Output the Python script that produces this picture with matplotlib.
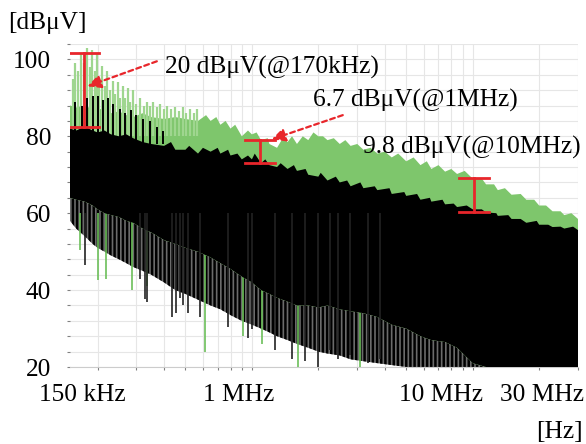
import matplotlib
matplotlib.use("Agg")
import matplotlib.pyplot as plt
from matplotlib import ticker

plt.rcParams['font.family'] = ['Liberation Serif', 'DejaVu Serif']
plt.rcParams['hatch.linewidth'] = 1.8

# frequency grid (kHz) and envelopes (dBuV)
freq = [150, 160, 175, 190, 200, 215, 230, 250, 270, 290, 320, 350, 400, 450, 500,
        570, 650, 720, 800, 900, 1000, 1100, 1200, 1300, 1450, 1600, 1800, 2000,
        2200, 2500, 2800, 3200, 3700, 4300, 5000, 5800, 6500, 7500, 8500, 10000,
        11500, 13000, 15000, 17500, 20000, 23000, 26000, 30000]
green_top = [88, 87.5, 88, 87, 87.5, 86.5, 86, 86.5, 85.5, 85, 86, 85, 84.5, 85, 84.5,
             84, 84, 83, 82, 80, 80.5, 79, 78, 77, 78.5, 78, 79, 80,
             79, 78, 77.5, 76.5, 75.5, 74.5, 73.5, 72.5, 71.5, 70.8, 70.2, 69,
             67.5, 66, 64.8, 63.5, 62, 60.5, 59.5, 58.5]
black_top = [82, 81.5, 82.5, 81.5, 81, 81.5, 80.5, 80, 80.5, 79.5, 78.5, 78, 77.5, 76.5, 76.5,
             75.5, 76, 75.5, 75, 74, 74, 73, 72.5, 72, 71.5, 71, 70, 69.5,
             68.5, 68, 67, 66.5, 66, 65, 64.5, 63.5, 63, 62.3, 61.6, 61,
             60.2, 59.3, 58.5, 57.5, 57, 56.4, 56, 55.6]
black_low = [64, 63.5, 63, 62, 61, 60, 59.5, 59, 58, 57.5, 56, 55, 53, 52, 51,
             50, 48.5, 47, 45.5, 43.5, 42, 40, 39, 38, 37, 36, 36, 35.5,
             36, 35, 34.5, 34, 33, 31, 30, 28, 27, 26.5, 25, 21,
             20, 20, 20, 20, 20, 20, 20, 20]
spike_floor = [58, 56, 54, 52, 51, 50, 49, 48, 47, 46, 45, 44, 42, 40, 39,
               37.5, 36, 35, 33.5, 32, 31, 30, 29, 28, 27, 26, 25, 24,
               23.5, 23, 22, 21.5, 21, 20.5, 20, 20, 20, 20, 20, 20,
               20, 20, 20, 20, 20, 20, 20, 20]

# small peaks on the upper edges (kHz, dBuV)
green_edge_f = [620, 690, 760, 840, 960, 1050, 1180, 1380, 1520, 1700, 1900, 2100, 2350,
                2650, 3000, 3450, 4000, 4600, 5400, 6200, 7000, 8000, 9200, 11000, 12500,
                14000, 16500, 19000, 21500, 25000, 28000]
green_edge_v = [85.5, 85, 84, 83, 81.5, 81, 79.5, 79.5, 80, 80, 81, 80, 79.5,
                79, 78, 77, 76, 75.5, 74.5, 73.5, 72.5, 71.5, 71, 69, 67.5,
                66.5, 65, 63.5, 62, 60.5, 60]
black_edge_f = [430, 520, 600, 700, 780, 860, 960, 1030, 1150, 1350, 1550, 1750, 2050,
                2400, 2700, 3100, 3600, 4200, 4900, 5600, 6400, 7300, 8200, 9400, 11000,
                12800, 14500, 16500, 19500, 22000, 25000, 28500]
black_edge_v = [78.5, 77.5, 77, 77, 76.5, 75.5, 75, 75.5, 74, 73, 72.5, 71.5, 70.5,
                69.5, 68.5, 68, 67, 66.5, 65.5, 65, 64, 63.5, 62.5, 62, 61,
                60, 59.5, 58.5, 58, 57, 56.5, 56.5]

# single tall peaks at the low end (kHz, dBuV)
green_peak_f = [155, 158, 163, 168, 174, 179, 184, 189, 194, 199, 204, 209, 215, 221, 228,
                235, 241, 247, 254, 261, 267, 274, 281, 289, 300, 311, 323, 335,
                345, 356, 370, 383, 398, 412, 430, 448, 467, 487, 505, 524, 545, 563]
green_peak_v = [95, 99, 97, 101.6, 99, 103, 98, 102.4, 97, 101.6, 95, 98.4, 93, 97, 92,
                94.5, 91, 94, 90, 93, 90, 92.5, 89, 92, 88.5, 90, 88, 89,
                88, 89, 87.5, 88.5, 87, 88, 87, 87.5, 86.5, 87.5, 86, 87, 86, 87]
black_peak_f = [158, 170, 179, 190, 200, 212, 223, 236, 252, 266, 283, 300, 320, 345, 370, 395]
black_peak_v = [89, 88, 90, 90.6, 90.5, 89.5, 90, 88.5, 87, 86, 86.8, 85.5, 84.5, 84, 82.5, 81.5]

# deep dips below the envelopes (kHz, dBuV)
black_dip_f = [175, 311, 328, 334, 434, 453, 472, 487, 513, 581, 778, 958, 999,
               1270, 1520, 1740, 1990, 2250, 2450, 2770, 3350, 3790]
black_dip_v = [46.5, 43, 37.6, 37, 33, 34, 38, 36, 34, 33, 30.4, 27.5, 30,
               24.4, 22, 21.5, 20, 24.4, 22, 23, 21, 22]
green_dip_f = [167, 201, 218, 286, 335, 610, 910, 1110, 1610, 3080]
green_dip_v = [50.4, 42.6, 43, 40, 41, 24, 28, 26, 20, 20]

RED = '#e8262b'
GREEN = '#7ec66c'
k = 1e3


def outline(top_f, top_v, extra_f, extra_v):
    pts = sorted(zip(list(top_f) + list(extra_f), list(top_v) + list(extra_v)))
    xs = [p[0]*k for p in pts] + [f*k for f in freq[::-1]]
    ys = [p[1] for p in pts] + black_low[::-1]
    return xs, ys


fig = plt.figure(figsize=(5.86, 4.44), dpi=100)
ax = fig.add_axes([70/586, 1-367/444, 508/586, 323/444])

fHz = [f*k for f in freq]
ax.fill_between(fHz, spike_floor, black_low, facecolor='0.42', edgecolor='black',
                hatch='||||', linewidth=0, zorder=1)
gx, gy = outline(freq, green_top, green_edge_f, green_edge_v)
ax.fill(gx, gy, color=GREEN, linewidth=0, zorder=2)
ax.vlines([f*k for f in green_peak_f], 80, green_peak_v, color='#9fd68f', lw=1.6, zorder=2)
ax.vlines([f*k for f in green_dip_f], green_dip_v, 60, color='#6cbf5a', lw=1.2, zorder=3)
bx, by = outline(freq, black_top, black_edge_f, black_edge_v)
ax.fill(bx, by, color='black', linewidth=0, zorder=4)
ax.vlines([f*k for f in black_peak_f], 78, black_peak_v, color='black', lw=1.4, zorder=5)
ax.vlines([f*k for f in black_dip_f], black_dip_v, 60, color='#222222', lw=1.2, zorder=5)


# difference markers
def bar(f, lo, hi):
    w = 10**0.068
    ax.plot([f, f], [lo, hi], color=RED, lw=2, zorder=6)
    ax.plot([f/w, f*w], [lo, lo], color=RED, lw=2, zorder=6)
    ax.plot([f/w, f*w], [hi, hi], color=RED, lw=2, zorder=6)


bar(174e3, 82.4, 101.6)
bar(1.09e6, 73.1, 79.1)
bar(10.1e6, 60.3, 69.1)

arrow = dict(arrowstyle='-|>,head_length=0.8,head_width=0.4', color=RED, lw=1.6,
             linestyle=(0, (2.2, 1.6)), shrinkA=0, shrinkB=0)
ax.annotate('', xy=(180e3, 93), xytext=(371e3, 99.5), arrowprops=arrow, zorder=7)
ax.annotate('', xy=(1.23e6, 79.2), xytext=(2.58e6, 85.5), arrowprops=arrow, zorder=7)

fs = 18.3
ax.text(404e3, 97.9, '20 dBμV(@170kHz)', fontsize=fs, va='center', ha='left', zorder=8)
ax.text(1.89e6, 89.4, '6.7 dBμV(@1MHz)', fontsize=fs, va='center', ha='left', zorder=8)
ax.text(3.2e6, 77.1, '9.8 dBμV(@10MHz)', fontsize=fs, va='center', ha='left', zorder=8)

ax.set_xscale('log')
ax.set_xlim(150e3, 30e6)
ax.set_ylim(20, 104)
ax.xaxis.set_major_locator(ticker.LogLocator(base=10, subs=range(1, 10), numticks=50))
ax.xaxis.set_major_formatter(ticker.NullFormatter())
ax.xaxis.set_minor_locator(ticker.NullLocator())
ax.set_yticks(range(20, 105, 4))
ax.set_yticklabels([str(v) if v % 20 == 0 else '' for v in range(20, 105, 4)], fontsize=fs)
ax.tick_params(axis='y', length=2, color='0.5', pad=11.5)
ax.tick_params(axis='x', length=2.5, color='0.5', direction='out')
ax.grid(True, color='#e6e6e6', lw=0.8, zorder=0)
ax.set_axisbelow(True)
for s in ['left', 'top', 'right']:
    ax.spines[s].set_visible(False)
ax.spines['bottom'].set_color('0.8')

for xf, lab in [(0.0246, '150 kHz'), (0.3317, '1 MHz'), (0.730, '10 MHz'), (0.93, '30 MHz')]:
    ax.text(xf, -0.087, lab, transform=ax.transAxes, fontsize=fs, ha='center', va='center')
ax.text(0.963, -0.201, '[Hz]', transform=ax.transAxes, fontsize=fs, ha='center', va='center')
ax.text(-0.045, 1.065, '[dBμV]', transform=ax.transAxes, fontsize=fs, ha='center', va='center')

fig.savefig('out.png', dpi=100)
